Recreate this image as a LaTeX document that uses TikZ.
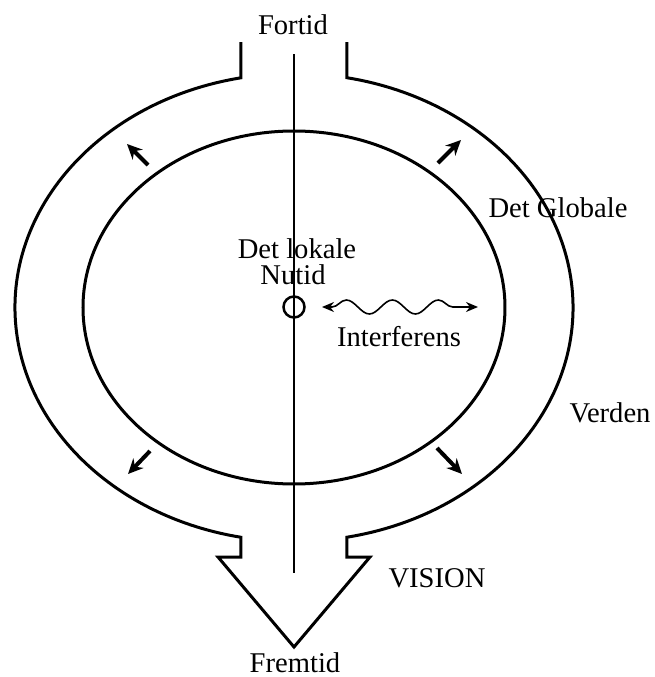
\documentclass[tikz,border=0pt]{standalone}
\usepackage{fontspec}
\setmainfont{Liberation Serif}
\usetikzlibrary{arrows.meta,decorations.pathmorphing}
\begin{document}
\begin{tikzpicture}[x=0.5pt,y=0.5pt,
  shape line/.style={line width=1.5pt},
  axis line/.style={line width=1.3pt},
  flow arrow/.style={line width=2pt,-{Stealth[length=7.5pt,width=7pt]}},
  lbl/.style={font=\fontsize{14.3}{12.5}\selectfont,inner sep=0pt,align=center},
  wave arrow/.style={line width=0.8pt,{Stealth[length=6pt,width=5pt]}-{Stealth[length=6pt,width=5pt]},
    decorate,decoration={snake,amplitude=3.5pt,segment length=23pt,pre length=5pt,post length=5pt}}]
\useasboundingbox (0,0) rectangle (655,677);
% outer shape (Verden) with inlet and arrow-shaped outlet
\draw[shape line,line join=miter] (241,635) -- (241,599.2)
  arc[start angle=100.95,end angle=259.05,x radius=279,y radius=234]
  -- (241,120) -- (218,120) -- (294,30) -- (370,120) -- (347,120) -- (347,139.8)
  arc[start angle=-79.05,end angle=79.05,x radius=279,y radius=234]
  -- (347,635);
% inner ellipse
\draw[shape line] (294,369.5) ellipse[x radius=211,y radius=176.5];
% time axis
\coordinate (past) at (294,623);
\coordinate (future) at (294,104);
\draw[axis line] (past) -- (future);
% now
\node[circle,draw,line width=1.25pt,minimum size=10.5pt,inner sep=0pt] (now) at (294,370) {};
% interference
\coordinate (wl) at (322,370);
\coordinate (wr) at (478,370);
\draw[wave arrow] (wl) -- (wr);
% four outward arrows
\coordinate (ult) at (148,512); \coordinate (ulh) at (127,533);
\coordinate (urt) at (438,514); \coordinate (urh) at (461,537);
\coordinate (llt) at (150,226); \coordinate (llh) at (128,203);
\coordinate (lrt) at (437,229); \coordinate (lrh) at (462,203);
\draw[flow arrow] (ult) -- (ulh);
\draw[flow arrow] (urt) -- (urh);
\draw[flow arrow] (llt) -- (llh);
\draw[flow arrow] (lrt) -- (lrh);
% labels
\node[lbl] (fortid) at (293,652) {Fortid};
\node[lbl] (globale) at (558,469) {Det Globale};
\node[lbl] (verden) at (610,264) {Verden};
\node[lbl] (vision) at (437,99) {VISION};
\node[lbl] (fremtid) at (295,14) {Fremtid};
\node[lbl] (lokale) at (297,428) {Det lokale};
\node[lbl] (nutid) at (293,402) {Nutid};
\node[lbl] (interf) at (399,340) {Interferens};
\end{tikzpicture}
\end{document}
